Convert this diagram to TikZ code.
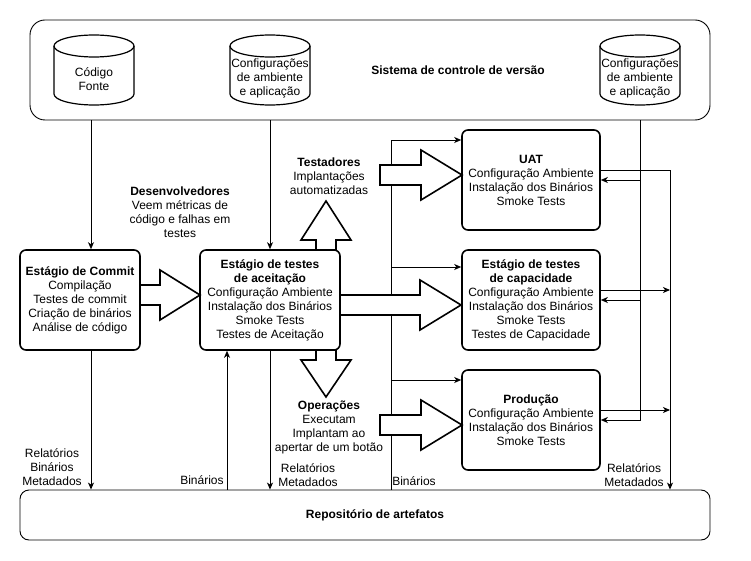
\documentclass[tikz,border=0pt]{standalone}
\usepackage{fontspec}
\setmainfont{Liberation Sans}
\usetikzlibrary{arrows.meta}
\newcommand\drawcyl[3]{%
 \path[draw, line width=1.2pt, fill=white] ({#1-40},{#2+11}) -- ({#1-40},{#3-11})
   arc[start angle=180, end angle=360, x radius=40pt, y radius=11pt] -- ({#1+40},{#2+11})
   arc[start angle=0, end angle=180, x radius=40pt, y radius=11pt] -- cycle;
 \draw[line width=1.2pt] ({#1-40},{#2+11}) arc[start angle=180, end angle=360, x radius=40pt, y radius=11pt];
}
\begin{document}
\begin{tikzpicture}[x=1pt,y=-1pt, font=\fontsize{12}{14}\selectfont,
  stage/.style={draw, line width=1.6pt, rounded corners=6pt, fill=white, align=center, minimum height=100pt, inner sep=0pt},
  conn/.style={line width=0.9pt, -{Stealth[length=7pt,width=6pt,inset=2pt]}},
  blk/.style={draw, line width=1.6pt, fill=white, line join=miter},
  lbl/.style={align=center, inner sep=0pt},
  frame/.style={draw, line width=0.9pt}]
\useasboundingbox (0,0) rectangle (751,561);

% containers
\node[frame, rounded corners=15pt, minimum width=680pt, minimum height=100pt] (vcs) at (370,70) {};
\node[frame, rounded corners=9pt, minimum width=690pt, minimum height=50pt] (repo) at (365,515) {};
\node[lbl] (lvcs) at (458,70) {\textbf{Sistema de controle de versão}};
\node[lbl] (lrepo) at (375,515) {\textbf{Repositório de artefatos}};

% cylinders
\drawcyl{94}{35}{105}
\drawcyl{270}{35}{105}
\drawcyl{640}{35}{105}
\node[lbl] (cf) at (94,79) {Código\\Fonte};
\node[lbl] (cfg1) at (270,78) {Configurações\\de ambiente\\e aplicação};
\node[lbl] (cfg2) at (640,78) {Configurações\\de ambiente\\e aplicação};

% stages
\node[stage, minimum width=120pt] (commit) at (80,300) {\textbf{Estágio de Commit}\\Compilação\\Testes de commit\\Criação de binários\\Análise de código};
\node[stage, minimum width=140pt] (accept) at (270,300) {\textbf{Estágio de testes}\\\textbf{de aceitação}\\Configuração Ambiente\\Instalação dos Binários\\Smoke Tests\\Testes de Aceitação};
\node[stage, minimum width=138pt] (uat) at (531,180) {\textbf{UAT}\\Configuração Ambiente\\Instalação dos Binários\\Smoke Tests};
\node[stage, minimum width=138pt] (cap) at (531,300) {\textbf{Estágio de testes}\\\textbf{de capacidade}\\Configuração Ambiente\\Instalação dos Binários\\Smoke Tests\\Testes de Capacidade};
\node[stage, minimum width=138pt] (prod) at (531,420) {\textbf{Produção}\\Configuração Ambiente\\Instalação dos Binários\\Smoke Tests};

% helper x positions
\coordinate (xcf) at (91,0);
\coordinate (xb) at (227,0);
\coordinate (xL) at (391,0);
\coordinate (xR1) at (640,0);
\coordinate (xR2) at (670,0);

% thin connectors
\draw[conn] (vcs.south -| xcf) -- (commit.north -| xcf);
\draw[conn] (vcs.south -| accept) -- (accept.north);
\draw[conn] (vcs.south -| xR1) |- (prod.east);
\draw[conn] (uat.east -| xR1) -- (uat.east);
\draw[conn] (cap.east -| xR1) -- (cap.east);

\coordinate (uo) at ([yshift=10pt]uat.east);
\coordinate (co) at ([yshift=10pt]cap.east);
\coordinate (po) at ([yshift=10pt]prod.east);
\draw[conn] (uo) -| (repo.north -| xR2);
\draw[conn] (co) -- (co -| xR2);
\draw[conn] (po) -- (po -| xR2);

\coordinate (ui) at ([yshift=40pt]uat.west);
\coordinate (ci) at ([yshift=33pt]cap.west);
\coordinate (prin) at ([yshift=40pt]prod.west);
\draw[conn] (repo.north -| xL) |- (ui);
\draw[conn] (ci -| xL) -- (ci);
\draw[conn] (prin -| xL) -- (prin);

\draw[conn] (commit.south -| xcf) -- (repo.north -| xcf);
\draw[conn] (accept.south) -- (repo.north -| accept.south);
\draw[conn] (repo.north -| xb) -- (accept.south -| xb);

% block arrows
\path[blk] (140,285) -- (160,285) -- (160,270) -- (200,295) -- (160,320) -- (160,305) -- (140,305) -- cycle;
\path[blk] (340,295) -- (420,295) -- (420,280) -- (461,305) -- (420,330) -- (420,315) -- (340,315) -- cycle;
\path[blk] (380,165) -- (421,165) -- (421,150) -- (462,175) -- (421,200) -- (421,185) -- (380,185) -- cycle;
\path[blk] (380,415) -- (421,415) -- (421,400) -- (462,425) -- (421,450) -- (421,435) -- (380,435) -- cycle;
\path[blk] (316,250) -- (316,240) -- (301,240) -- (326,201) -- (351,240) -- (336,240) -- (336,250) -- cycle;
\path[blk] (316,350) -- (316,360) -- (301,360) -- (326,397) -- (351,360) -- (336,360) -- (336,350) -- cycle;

% labels
\node[lbl] (lrbm) at (52,467) {Relatórios\\Binários\\Metadados};
\node[lbl] (lb1) at (202,480) {Binários};
\node[lbl] (lrm1) at (308,475) {Relatórios\\Metadados};
\node[lbl] (lb2) at (414,481) {Binários};
\node[lbl] (lrm2) at (634,475) {Relatórios\\Metadados};
\node[lbl] (ltest) at (329,176) {\textbf{Testadores}\\Implantações\\automatizadas};
\node[lbl] (ldev) at (180,212) {\textbf{Desenvolvedores}\\Veem métricas de\\código e falhas em\\testes};
\node[lbl] (lops) at (329,427) {\textbf{Operações}\\Executam\\Implantam ao\\apertar de um botão};
\end{tikzpicture}
\end{document}
